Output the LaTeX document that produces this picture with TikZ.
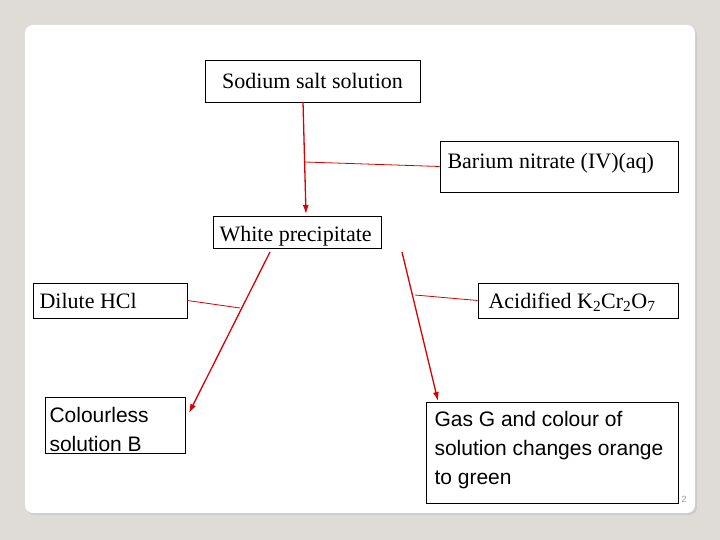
\documentclass[tikz,border=0pt]{standalone}
\usepackage{fontspec}
\setmainfont{Liberation Serif}
\newfontfamily\arialf{Liberation Sans}
\begin{document}
\begin{tikzpicture}[x=1pt,y=-1pt,
  bx/.style={draw=black,line width=0.8pt,fill=white,inner sep=0pt},
  lbl/.style={font=\fontsize{22}{26}\selectfont},
  lbs/.style={font=\arialf\fontsize{21}{29}\selectfont,align=left},
  arr/.style={draw=red!85!black,line width=1.3pt,-{Latex[length=9pt,width=6pt]}},
  ln/.style={draw=red!85!black,line width=0.8pt}]
\usetikzlibrary{arrows.meta}
\useasboundingbox (0,0) rectangle (720,540);
\fill[black!12!white!95!brown] (0,0) rectangle (720,540);
\fill[black!20,rounded corners=8pt] (27,27) rectangle (697,515);
\fill[white,rounded corners=8pt] (25,25) rectangle (695,513);
\node[bx,minimum width=215,minimum height=42] (s) at (312.5,81) {};
\node[lbl] at (s) {Sodium salt solution};
\node[bx,minimum width=238,minimum height=51] (b) at (559,166.5) {};
\node[lbl,anchor=west] at (444,163) {Barium nitrate (IV)(aq)};
\node[bx,minimum width=168,minimum height=32] (w) at (297,232) {};
\node[lbl,anchor=west] at (216,236) {White precipitate};
\node[bx,minimum width=154,minimum height=35] (h) at (110,300.5) {};
\node[lbl,anchor=west] at (36,300.5) {Dilute HCl};
\node[bx,minimum width=200,minimum height=35] (k) at (578,300.5) {};
\node[lbl,anchor=west] at (485,302) {Acidified K\textsubscript{2}Cr\textsubscript{2}O\textsubscript{7}};
\node[bx,minimum width=140,minimum height=56] (c) at (115,425) {};
\node[lbs,anchor=west] at (46,429) {Colourless\\solution B};
\node[bx,minimum width=252,minimum height=101] (g) at (552,452.5) {};
\node[lbs,anchor=west] at (431,450) {Gas G and colour of\\solution changes orange\\to green};
\node[text=black!40,font=\arialf\fontsize{9}{10}\selectfont] (pn) at (684,499) {2};
\coordinate (j) at (305,162);
\draw[arr] (303,102) -- (306,214);
\draw[ln] (j) -- (b.west);
\coordinate (ha) at (240,308);
\draw[arr] (270,252) -- (189,413);
\draw[ln] (h.east) -- (ha);
\coordinate (ka) at (415,295);
\draw[arr] (402,252) -- (438,401);
\draw[ln] (ka) -- (k.west);
\end{tikzpicture}
\end{document}
